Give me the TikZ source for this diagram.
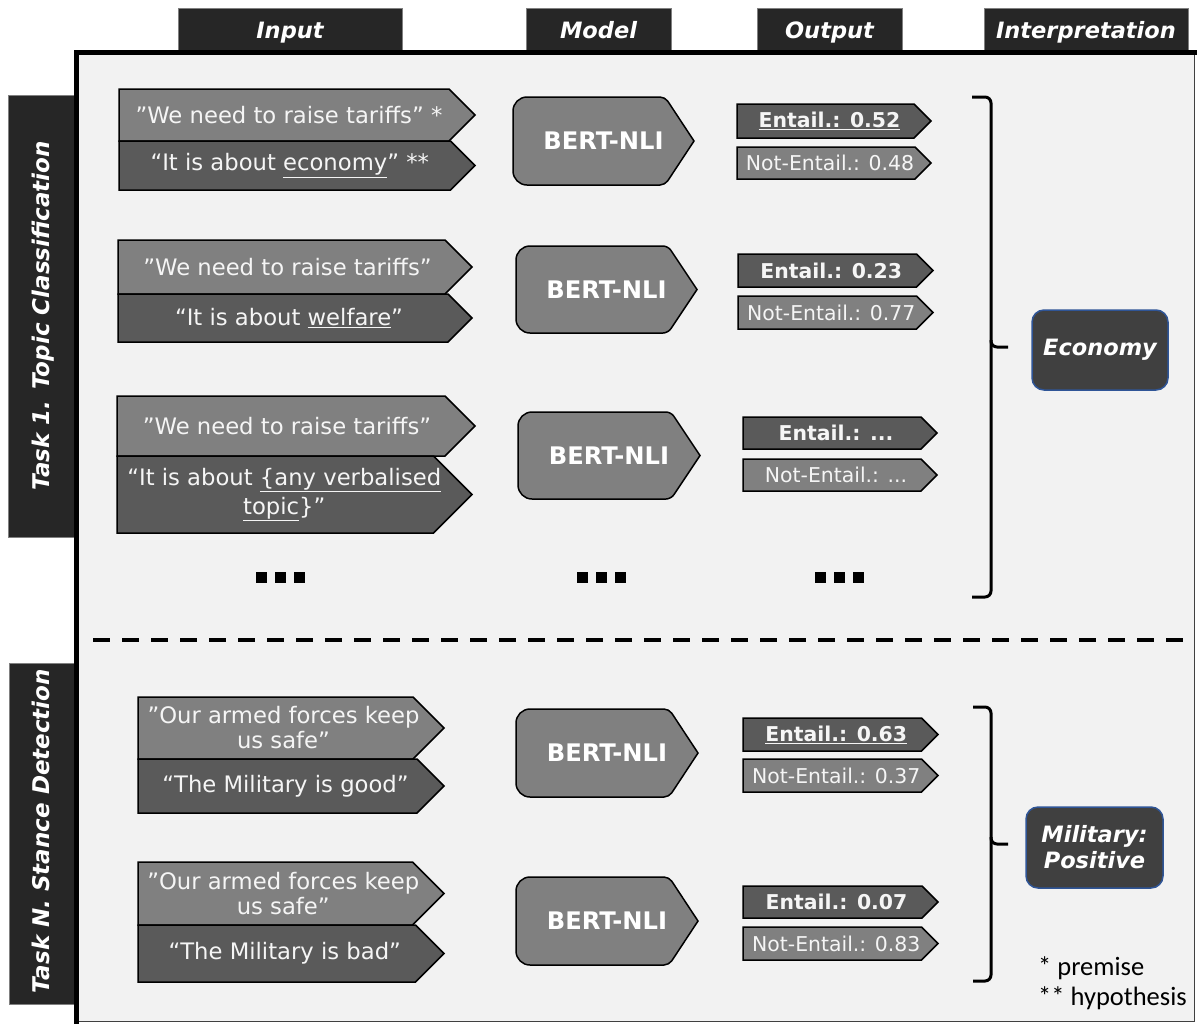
\documentclass[tikz,border=0pt]{standalone}
\usepackage{fontspec}
\setmainfont{DejaVu Sans}
\newfontfamily\notefont{Carlito}
\definecolor{bgc}{HTML}{F2F2F2}
\definecolor{tabc}{HTML}{262626}
\definecolor{lightc}{HTML}{808080}
\definecolor{darkc}{HTML}{5A5A5A}
\definecolor{txtc}{HTML}{F5F5F5}
\definecolor{interc}{HTML}{404040}
\definecolor{interb}{HTML}{2F5597}
\newcommand\fIn{\fontsize{22.7}{26}\selectfont}
\newcommand\fInTwo{\fontsize{22.7}{25}\selectfont}
\newcommand\fInThree{\fontsize{22.7}{29}\selectfont}
\newcommand\fOut{\fontsize{20.4}{24}\selectfont}
\newcommand\fOutB{\fontsize{20.4}{24}\selectfont\bfseries}
\newcommand\fBert{\fontsize{24.2}{28}\selectfont\bfseries}
\newcommand\fHead{\fontsize{22.5}{26}\selectfont\bfseries\itshape}
\newcommand\fSide{\fontsize{23}{26}\selectfont\bfseries\itshape}
\newcommand\piece[9]{%
  \pgfmathsetmacro\PcYm{(#4+#5)/2}%
  \pgfmathsetmacro\PcXr{#6-(#5-#4)/2}%
  \pgfmathsetmacro\PcXc{(#3+\PcXr)/2+#7}%
  \draw[#1] (#3,#4) -- (\PcXr,#4) -- (#6,\PcYm) -- (\PcXr,#5) -- (#3,#5) -- cycle;
  \node[txt, #8] (#2) at (\PcXc,\PcYm) {#9};
}
\newcommand\bertshape[6]{%
  \pgfmathsetmacro\PcYm{(#3+#4)/2}%
  \pgfmathsetmacro\PcXr{#5-#6}%
  \pgfmathsetmacro\PcXc{(#2+#5)/2}%
  \draw[bertbox] (#2,\PcYm) [rounded corners=14pt] -- (#2,#3) [rounded corners=5pt] -- (\PcXr,#3) [sharp corners] -- (#5,\PcYm) [rounded corners=5pt] -- (\PcXr,#4) [rounded corners=14pt] -- (#2,#4) -- cycle;
  \node[berttxt] (#1) at (\PcXc,\PcYm) {BERT-NLI};
}
\begin{document}
\begin{tikzpicture}[x=1pt,y=-1pt,
  txt/.style={text=txtc, inner sep=0pt, align=center},
  prem/.style={draw=black, line width=1.5pt, fill=lightc},
  hyp/.style={draw=black, line width=1.5pt, fill=darkc},
  entbox/.style={draw=black, line width=1.5pt, fill=darkc},
  nentbox/.style={draw=black, line width=1.5pt, fill=lightc},
  bertbox/.style={draw=black, line width=1.5pt, fill=lightc},
  berttxt/.style={text=white, inner sep=0pt, font=\fBert},
  tabbox/.style={draw=gray, line width=1pt, fill=tabc},
  headtxt/.style={text=white, inner sep=0pt, font=\fHead},
  sidetxt/.style={text=white, inner sep=0pt, font=\fSide, rotate=90, anchor=base},
  interp/.style={draw=interb, line width=1.5pt, fill=interc, rounded corners=12pt, text=white, font=\fHead, align=center, inner sep=0pt},
  brk/.style={draw=black, line width=3pt, rounded corners=6pt},
  dotsq/.style={fill=black},
  note/.style={inner sep=0pt, anchor=west, font=\notefont\fontsize{26.5}{30}\selectfont}
]
\useasboundingbox (0,0) rectangle (1198,1023);
% top tabs
\draw[tabbox] (178,8) rectangle (402,54);
\node[headtxt, anchor=base] (hin) at (290,38) {Input};
\draw[tabbox] (526,8) rectangle (671,54);
\node[headtxt, anchor=base] (hmod) at (598.5,38) {Model};
\draw[tabbox] (757,8) rectangle (902,54);
\node[headtxt, anchor=base] (hout) at (829.5,38) {Output};
\draw[tabbox] (984,8) rectangle (1188,54);
\node[headtxt, anchor=base] (hint) at (1086,38) {Interpretation};
% left tabs
\draw[tabbox] (8,95) rectangle (76,537);
\node[sidetxt] (t1) at (49,316) {Task 1. Topic Classification};
\draw[tabbox] (9,663) rectangle (76,1004);
\node[sidetxt] (t2) at (49,831) {Task N. Stance Detection};
% frame
\fill[bgc] (76,52) rectangle (1194,1021);
\draw[line width=1pt, draw=black!75] (1194,52) -- (1194,1021) -- (76,1021);
\draw[line width=5pt, line cap=rect] (76.5,1021) -- (76.5,52.5) -- (1194,52.5);
% dashed separator
\draw[line width=4pt, dash pattern=on 17pt off 12pt] (93,640) -- (1190,640);
% ---- inputs
\piece{prem}{p1}{119}{89}{141}{475}{5}{font=\fIn}{”We need to raise tariffs” *}
\piece{hyp}{h1}{119}{141}{190}{475}{5}{font=\fIn}{“It is about \underline{economy}” **}
\piece{prem}{p2}{118}{240}{294}{472}{6}{font=\fIn}{”We need to raise tariffs”}
\piece{hyp}{h2}{118}{294}{342}{472}{6}{font=\fIn}{“It is about \underline{welfare}”}
\piece{prem}{p3}{117}{396}{456}{475}{6}{font=\fIn}{”We need to raise tariffs”}
\piece{hyp}{h3}{117}{456}{533}{472}{9}{font=\fInThree}{“It is about \underline{\{any verbalised}\\\underline{topic}\}”}
\piece{prem}{p4}{138}{697}{759}{444}{8}{font=\fInTwo}{”Our armed forces keep\\us safe”}
\piece{hyp}{h4}{138}{759}{813}{444}{8}{font=\fIn}{“The Military is good”}
\piece{prem}{p5}{138}{862}{925}{444}{8}{font=\fInTwo}{”Our armed forces keep\\us safe”}
\piece{hyp}{h5}{138}{925}{982}{444}{8}{font=\fIn}{“The Military is bad”}
% ---- models
\bertshape{m1}{513}{97}{185}{694}{29}
\bertshape{m2}{516}{246}{333}{697}{29}
\bertshape{m3}{518}{412}{499}{700}{29}
\bertshape{m4}{516}{709}{797}{698}{29}
\bertshape{m5}{516}{877}{965}{698}{29}
% ---- outputs
\piece{entbox}{e1}{737}{104}{138}{931}{4}{font=\fOutB}{\underline{Entail.: 0.52}}
\piece{nentbox}{n1}{737}{147}{179}{931}{4}{font=\fOut}{Not-Entail.: 0.48}
\piece{entbox}{e2}{738}{254}{287}{933}{4}{font=\fOutB}{Entail.: 0.23}
\piece{nentbox}{n2}{738}{296}{329}{933}{4}{font=\fOut}{Not-Entail.: 0.77}
\piece{entbox}{e3}{743}{417}{449}{937}{4}{font=\fOutB}{Entail.: ...}
\piece{nentbox}{n3}{743}{459}{491}{937}{4}{font=\fOut}{Not-Entail.: ...}
\piece{entbox}{e4}{743}{718}{751}{938}{4}{font=\fOutB}{\underline{Entail.: 0.63}}
\piece{nentbox}{n4}{743}{759}{792}{938}{4}{font=\fOut}{Not-Entail.: 0.37}
\piece{entbox}{e5}{743}{886}{918}{938}{4}{font=\fOutB}{Entail.: 0.07}
\piece{nentbox}{n5}{743}{927}{960}{938}{4}{font=\fOut}{Not-Entail.: 0.83}
% ---- dots
\foreach \x in {256,275,294} \fill[dotsq] (\x,572) rectangle ++(11,11);
\foreach \x in {577,596,615} \fill[dotsq] (\x,572) rectangle ++(11,11);
\foreach \x in {815,834,853} \fill[dotsq] (\x,572) rectangle ++(11,11);
% ---- brackets
\draw[brk] (972,97) -| (991,347) -- (1008,347);
\draw[brk] (991,340) |- (972,597);
\draw[brk] (973,707) -| (991,844) -- (1008,844);
\draw[brk] (991,837) |- (973,981);
% ---- interpretations
\node[interp, minimum width=136pt, minimum height=80pt] (econ) at (1100,350) {Economy};
\node[interp, minimum width=137pt, minimum height=81pt] (mil) at (1094.5,847.5) {Military:\\Positive};
% ---- notes
\node[note] (np) at (1038,968) {* premise};
\node[note] (nh) at (1038,998) {** hypothesis};
\end{tikzpicture}
\end{document}
